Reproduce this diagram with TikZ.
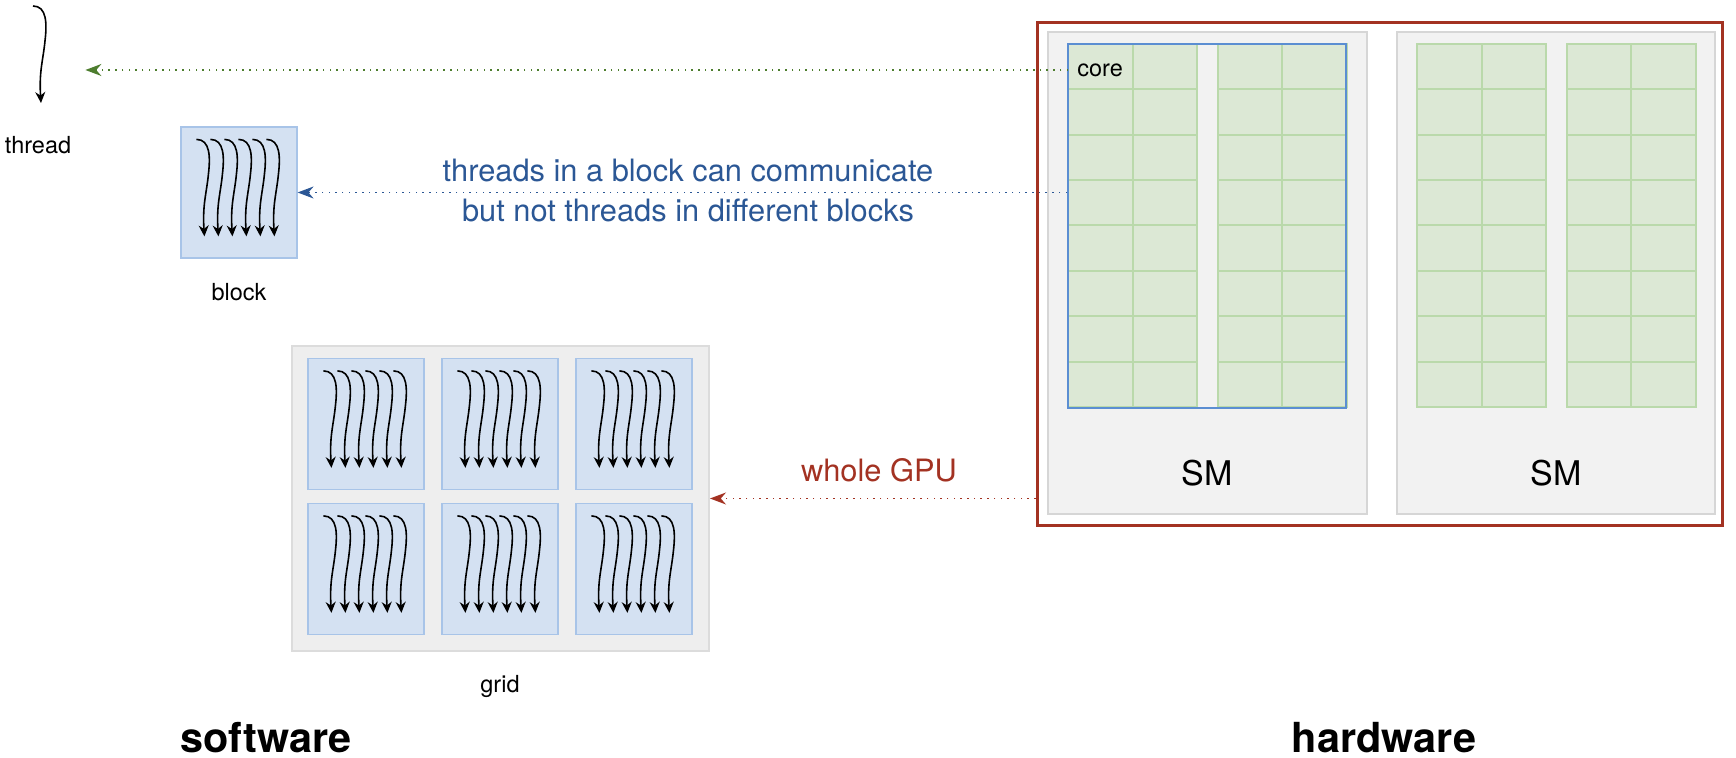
\documentclass[tikz,border=0pt]{standalone}
\usepackage{fontspec}
\setmainfont{TeX Gyre Heros}
\usetikzlibrary{arrows.meta}

\definecolor{smfill}{HTML}{F2F2F2}
\definecolor{smline}{HTML}{D6D6D6}
\definecolor{gridfill}{HTML}{EEEEEE}
\definecolor{gridline}{HTML}{DCDCDC}
\definecolor{blockfill}{HTML}{D4E1F2}
\definecolor{blockline}{HTML}{A8C4E8}
\definecolor{cellfill}{HTML}{DCE8D5}
\definecolor{cellline}{HTML}{BAD9AB}
\definecolor{coreblue}{HTML}{5B8ED2}
\definecolor{commblue}{HTML}{2B5795}
\definecolor{threadgreen}{HTML}{4D7D2E}
\definecolor{gpured}{HTML}{A33222}

\tikzset{
  lbl/.style={font=\fontsize{11.75}{14}\selectfont, inner sep=0pt},
  note/.style={font=\fontsize{15.4}{20}\selectfont, align=center, inner sep=0pt},
  bigword/.style={font=\fontsize{20.7}{24}\selectfont\bfseries, inner sep=0pt},
  blockbox/.style={draw=blockline, fill=blockfill, line width=0.6pt, minimum width=58pt, minimum height=65.5pt, inner sep=0pt},
  smbox/.style={draw=smline, fill=smfill, line width=1pt, minimum height=241pt, inner sep=0pt},
  threadline/.style={line width=0.8pt, -{Stealth[length=5.5pt, width=5pt]}},
  link/.style={line width=0.75pt, dash pattern=on 0.75pt off 2.6pt, -{Stealth[length=8pt, width=6pt]}},
  onethread/.pic={\draw[threadline] (0,0) .. controls (14,0) and (14,18) .. (12,35) .. controls (10,55) and (6,65) .. (8,97);},
  sixthreads/.pic={\foreach \t in {0,...,5} \pic at (14*\t,0) {onethread};},
}

\begin{document}
\begin{tikzpicture}[x=0.5pt, y=-0.5pt]
    \useasboundingbox (0,0) rectangle (1736,758);

    % Software: thread
    \node[minimum width=45pt, minimum height=50pt, inner sep=0pt] (thread) at (40,55) {};
    \pic at (33,6) {onethread};
    \node[lbl] (threadlbl) at (38,145) {thread};

    % Software: block
    \node[blockbox] (block) at (239,192.5) {};
    \pic at ([shift={(16,13)}]block.north west) {sixthreads};
    \node[lbl] (blocklbl) at (239,292) {block};

    % Software: grid of blocks
    \node[draw=gridline, fill=gridfill, line width=1pt, minimum width=208.5pt, minimum height=152.5pt, inner sep=0pt] (grid) at (500.5,498.5) {};
    \foreach \col in {0,1,2}
        \foreach \row in {0,1} {
            \node[blockbox] (g\col\row) at (366+134*\col, 424+145*\row) {};
            \pic at ([shift={(16,13)}]g\col\row.north west) {sixthreads};
        }
    \node[lbl] (gridlbl) at (500,686) {grid};

    % Hardware: GPU with two SMs
    \node[draw=gpured, line width=1.5pt, minimum width=342.5pt, minimum height=251.5pt, inner sep=0pt] (gpu) at (1379.5,274.5) {};
    \node[smbox, minimum width=159.5pt] (sm1) at (1207.5,273) {};
    \node[smbox, minimum width=159pt] (sm2) at (1556,273) {};
    \foreach \sx in {1068,1417}
        \foreach \gx in {0,149.5}
            \foreach \c in {0,1}
                \foreach \r in {0,...,7}
                    \filldraw[fill=cellfill, draw=cellline, line width=1pt] (\sx+\gx+64.5*\c, 44+45.375*\r) rectangle ++(64.5,45.375);
    \node[draw=coreblue, line width=1pt, minimum width=139pt, minimum height=182pt, inner sep=0pt] (smcores) at (1207,226) {};
    \node[lbl, anchor=west, inner xsep=4.5pt] (core) at (1068,70) {core};
    \node[font=\fontsize{17}{20}\selectfont, inner sep=0pt] (sm1lbl) at (1207,473) {SM};
    \node[font=\fontsize{17}{20}\selectfont, inner sep=0pt] (sm2lbl) at (1556,473) {SM};

    % Mapping between hardware and software
    \draw[link, threadgreen] (core.west) -- (core.west -| thread.east);
    \draw[link, commblue] (block.east -| smcores.west) -- (block.east);
    \node[note, text=commblue] (commnote) at (688,191) {threads in a block can communicate\\but not threads in different blocks};
    \draw[link, gpured] (grid.east -| gpu.west) -- (grid.east);
    \node[note, text=gpured] (gpunote) at (879,470) {whole GPU};

    % Titles
    \node[bigword] (software) at (266,738) {software};
    \node[bigword] (hardware) at (1384,738) {hardware};
\end{tikzpicture}
\end{document}
